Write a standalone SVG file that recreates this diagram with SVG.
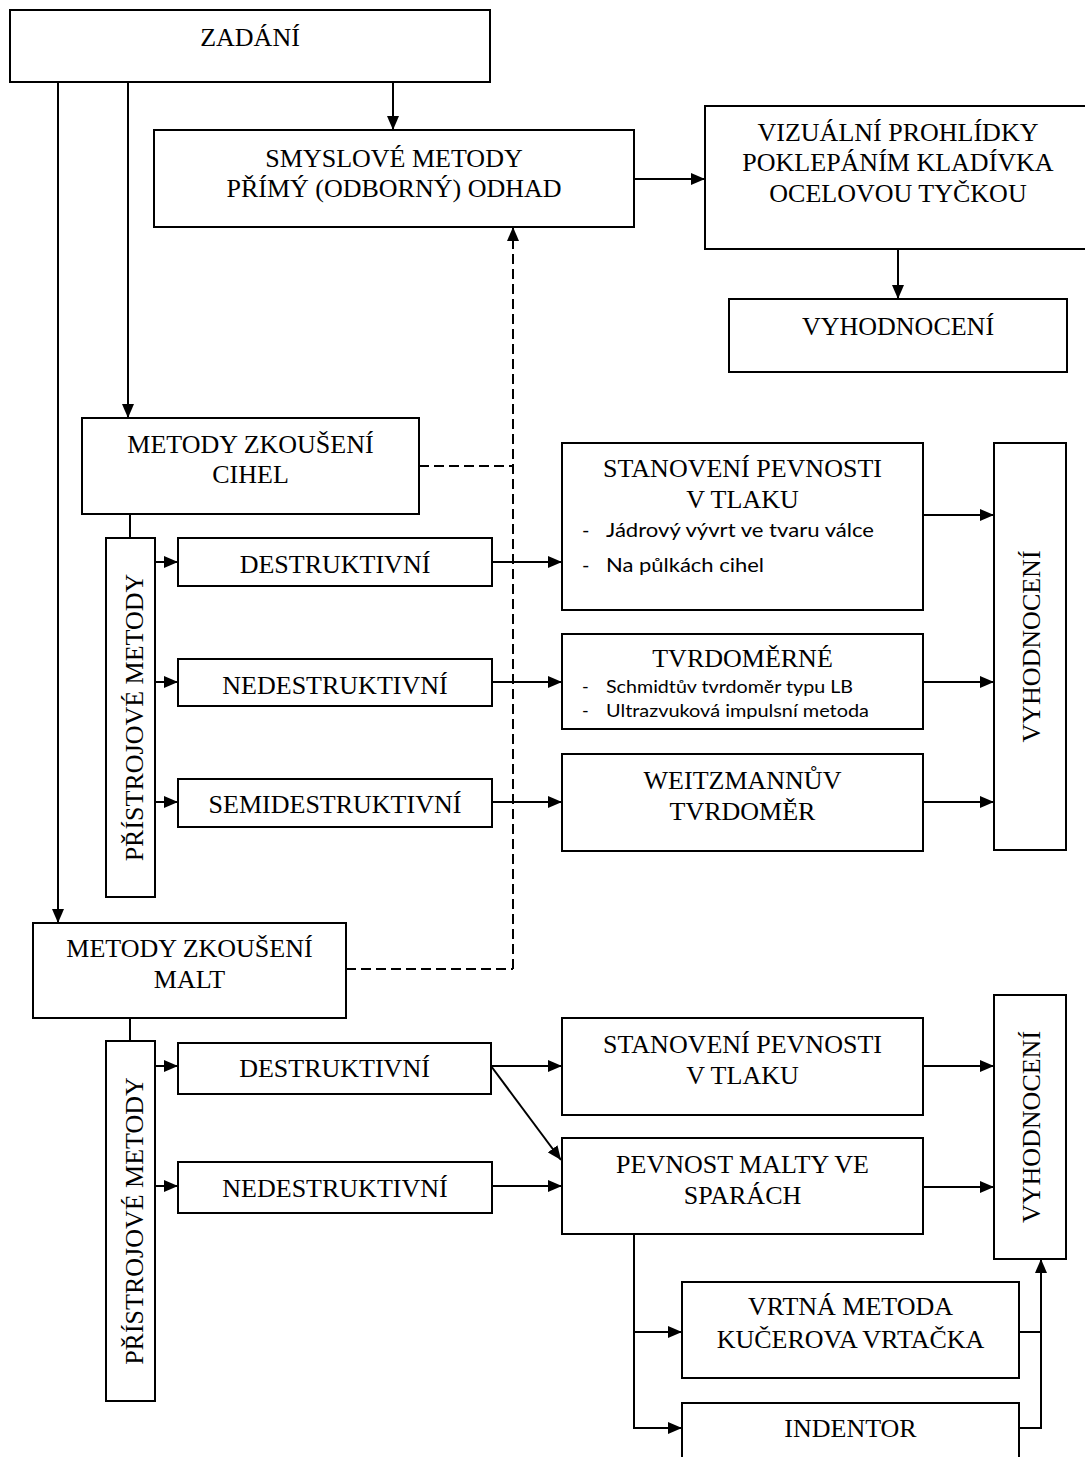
<svg xmlns="http://www.w3.org/2000/svg" width="1085" height="1457" viewBox="0 0 1085 1457">
  <style>
    .box { fill: #fff; stroke: #000; stroke-width: 2; }
    .t { font-family: "Liberation Serif", "Times New Roman", serif; font-size: 26px; text-anchor: middle; fill: #000; }
    .s { font-family: Lato, "Liberation Sans", sans-serif; fill: #000; }
    .s1 { font-size: 20px; }
    .s2 { font-size: 18px; }
    .ln { fill: none; stroke: #000; stroke-width: 2; }
    .arr { marker-end: url(#ah); }
    .dash { stroke-dasharray: 10 5; }
  </style>
  <defs>
    <marker id="ah" viewBox="0 0 14 12" refX="14" refY="6" markerWidth="14" markerHeight="12" markerUnits="userSpaceOnUse" orient="auto">
      <path d="M0,0 L14,6 L0,12 Z" fill="#000"/>
    </marker>
    <clipPath id="tvrdoClip">
      <rect x="562" y="634" width="361" height="85"/>
    </clipPath>
  </defs>

  <rect width="1085" height="1457" fill="#fff"/>

  <!-- nodes -->
  <g id="zadani">
    <rect class="box" x="10" y="10" width="480" height="72"/>
    <text class="t" x="250" y="46">ZADÁNÍ</text>
  </g>
  <g id="smyslove">
    <rect class="box" x="154" y="130" width="480" height="97"/>
    <text class="t" x="394" y="167">SMYSLOVÉ METODY</text>
    <text class="t" x="394" y="197">PŘÍMÝ (ODBORNÝ) ODHAD</text>
  </g>
  <g id="vizualni">
    <rect class="box" x="705" y="106" width="392" height="143"/>
    <text class="t" x="898" y="141">VIZUÁLNÍ PROHLÍDKY</text>
    <text class="t" x="898" y="171">POKLEPÁNÍM KLADÍVKA</text>
    <text class="t" x="898" y="202">OCELOVOU TYČKOU</text>
  </g>
  <g id="vyhodnoceni-top">
    <rect class="box" x="729" y="299" width="338" height="73"/>
    <text class="t" x="898" y="335">VYHODNOCENÍ</text>
  </g>

  <g id="cihel">
    <rect class="box" x="82" y="418" width="337" height="96"/>
    <text class="t" x="250.5" y="453">METODY ZKOUŠENÍ</text>
    <text class="t" x="250.5" y="483">CIHEL</text>
  </g>
  <g id="pristrojove-cihel">
    <rect class="box" x="106" y="538" width="49" height="359"/>
    <text class="t" transform="translate(143,717.5) rotate(-90)">PŘÍSTROJOVÉ METODY</text>
  </g>
  <g id="destruktivni-cihel">
    <rect class="box" x="178" y="538" width="314" height="48"/>
    <text class="t" x="335" y="573">DESTRUKTIVNÍ</text>
  </g>
  <g id="nedestruktivni-cihel">
    <rect class="box" x="178" y="659" width="314" height="47"/>
    <text class="t" x="335" y="694">NEDESTRUKTIVNÍ</text>
  </g>
  <g id="semidestruktivni">
    <rect class="box" x="178" y="779" width="314" height="48"/>
    <text class="t" x="335" y="813">SEMIDESTRUKTIVNÍ</text>
  </g>
  <g id="stanoveni-cihel">
    <rect class="box" x="562" y="443" width="361" height="167"/>
    <text class="t" x="742.5" y="477">STANOVENÍ PEVNOSTI</text>
    <text class="t" x="742.5" y="508">V TLAKU</text>
    <text class="s s1" x="582" y="537">-</text>
    <text class="s s1" x="606" y="537" textLength="268" lengthAdjust="spacingAndGlyphs">Jádrový vývrt ve tvaru válce</text>
    <text class="s s1" x="582" y="572">-</text>
    <text class="s s1" x="606" y="572" textLength="158" lengthAdjust="spacingAndGlyphs">Na půlkách cihel</text>
  </g>
  <g id="tvrdomerne">
    <rect class="box" x="562" y="634" width="361" height="95"/>
    <text class="t" x="742.5" y="667">TVRDOMĚRNÉ</text>
    <text class="s s2" x="582" y="693">-</text>
    <text class="s s2" x="606" y="693" textLength="247" lengthAdjust="spacingAndGlyphs">Schmidtův tvrdoměr typu LB</text>
    <g clip-path="url(#tvrdoClip)">
      <text class="s s2" x="582" y="717">-</text>
      <text class="s s2" x="606" y="717" textLength="263" lengthAdjust="spacingAndGlyphs">Ultrazvuková impulsní metoda</text>
    </g>
  </g>
  <g id="weitzmann">
    <rect class="box" x="562" y="754" width="361" height="97"/>
    <text class="t" x="742.5" y="789">WEITZMANNŮV</text>
    <text class="t" x="742.5" y="820">TVRDOMĚR</text>
  </g>
  <g id="vyhodnoceni-cihel">
    <rect class="box" x="994" y="443" width="72" height="407"/>
    <text class="t" transform="translate(1040,646.5) rotate(-90)">VYHODNOCENÍ</text>
  </g>

  <g id="malt">
    <rect class="box" x="33" y="923" width="313" height="95"/>
    <text class="t" x="189.5" y="957">METODY ZKOUŠENÍ</text>
    <text class="t" x="189.5" y="988">MALT</text>
  </g>
  <g id="pristrojove-malt">
    <rect class="box" x="106" y="1041" width="49" height="360"/>
    <text class="t" transform="translate(143,1221) rotate(-90)">PŘÍSTROJOVÉ METODY</text>
  </g>
  <g id="destruktivni-malt">
    <rect class="box" x="178" y="1043" width="313" height="51"/>
    <text class="t" x="334.5" y="1077">DESTRUKTIVNÍ</text>
  </g>
  <g id="nedestruktivni-malt">
    <rect class="box" x="178" y="1162" width="314" height="51"/>
    <text class="t" x="335" y="1197">NEDESTRUKTIVNÍ</text>
  </g>
  <g id="stanoveni-malt">
    <rect class="box" x="562" y="1018" width="361" height="97"/>
    <text class="t" x="742.5" y="1053">STANOVENÍ PEVNOSTI</text>
    <text class="t" x="742.5" y="1084">V TLAKU</text>
  </g>
  <g id="pevnost-malty">
    <rect class="box" x="562" y="1138" width="361" height="96"/>
    <text class="t" x="742.5" y="1173">PEVNOST MALTY VE</text>
    <text class="t" x="742.5" y="1204">SPARÁCH</text>
  </g>
  <g id="vyhodnoceni-malt">
    <rect class="box" x="994" y="995" width="72" height="264"/>
    <text class="t" transform="translate(1040,1127) rotate(-90)">VYHODNOCENÍ</text>
  </g>
  <g id="vrtna">
    <rect class="box" x="682" y="1282" width="337" height="96"/>
    <text class="t" x="850.5" y="1315">VRTNÁ METODA</text>
    <text class="t" x="850.5" y="1348">KUČEROVA VRTAČKA</text>
  </g>
  <g id="indentor">
    <rect class="box" x="682" y="1403" width="337" height="80"/>
    <text class="t" x="850.5" y="1437">INDENTOR</text>
  </g>

  <!-- connectors -->
  <g id="connectors">
    <path class="ln arr" d="M58,82 V923"/>
    <path class="ln arr" d="M128,82 V418"/>
    <path class="ln arr" d="M393,82 V130"/>
    <path class="ln arr" d="M634,179 H705"/>
    <path class="ln arr" d="M898,249 V299"/>

    <path class="ln dash" d="M419,466 H513"/>
    <path class="ln dash" d="M346,969 H513"/>
    <path class="ln dash arr" d="M513,969 V227"/>

    <path class="ln" d="M130,514 V538"/>
    <path class="ln arr" d="M155,562 H178"/>
    <path class="ln arr" d="M155,682 H178"/>
    <path class="ln arr" d="M155,802 H178"/>
    <path class="ln arr" d="M492,562 H562"/>
    <path class="ln arr" d="M492,682 H562"/>
    <path class="ln arr" d="M492,802 H562"/>
    <path class="ln arr" d="M923,515 H994"/>
    <path class="ln arr" d="M923,682 H994"/>
    <path class="ln arr" d="M923,802 H994"/>

    <path class="ln" d="M130,1018 V1041"/>
    <path class="ln arr" d="M155,1066 H178"/>
    <path class="ln arr" d="M155,1186 H178"/>
    <path class="ln arr" d="M491,1066 H562"/>
    <path class="ln arr" d="M491,1066 L561,1160"/>
    <path class="ln arr" d="M492,1186 H562"/>
    <path class="ln arr" d="M923,1066 H994"/>
    <path class="ln arr" d="M923,1187 H994"/>

    <path class="ln arr" d="M634,1234 V1428 H682"/>
    <path class="ln arr" d="M634,1332 H682"/>
    <path class="ln" d="M1019,1332 H1041"/>
    <path class="ln arr" d="M1019,1428 H1041 V1259"/>
  </g>
</svg>
